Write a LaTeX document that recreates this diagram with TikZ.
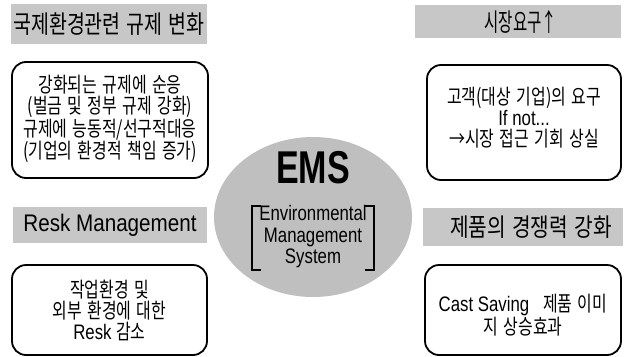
\documentclass[tikz,border=0pt]{standalone}
\usepackage{fontspec}
\setmainfont{Noto Sans CJK KR}[FakeStretch=0.76,WordSpace=1.5]
\newfontfamily\kta{Noto Sans CJK KR}[FakeStretch=0.78,WordSpace=1.4]
\newfontfamily\ktb{Noto Sans CJK KR}[FakeStretch=0.62]
\newfontfamily\ktc{Noto Sans CJK KR}[FakeStretch=0.81,WordSpace=1.4]
\newfontfamily\latn{Liberation Sans}[FakeStretch=0.80]
\newfontfamily\latt{Liberation Sans}[FakeStretch=0.86]
\newfontfamily\emsfont{Liberation Sans}[FakeStretch=0.74]
\newcommand{\lt}[1]{{\latn #1}}
\begin{document}
\begin{tikzpicture}[x=1pt,y=-1pt,
  titlebar/.style={fill=black!22,draw=none,inner sep=0pt,align=center},
  titletext/.style={inner sep=0pt},
  infobox/.style={draw=black,line width=1.8pt,rounded corners=14pt,fill=white,inner sep=0pt},
  boxtext/.style={inner sep=0pt,align=center,font=\fontsize{21}{21}\selectfont},
  bracketline/.style={line width=1.8pt}]
\useasboundingbox (0,0) rectangle (628,356);
% title bars
\node[titlebar,minimum width=196pt,minimum height=40pt,font=\kta\fontsize{25}{25}\selectfont] (t1) at (109,24) {국제환경관련 규제 변화};
\node[titlebar,minimum width=206pt,minimum height=33pt] (t2) at (518,21.5) {};
\node[titletext,font=\ktb\fontsize{25}{25}\selectfont] (t2x) at ([xshift=3pt]t2.center) {시장요구↑};
\node[titlebar,minimum width=194pt,minimum height=36pt,font=\latt\fontsize{24}{24}\selectfont] (t3) at (110,225) {Resk Management};
\node[titlebar,minimum width=200pt,minimum height=38pt] (t4) at (523,227) {};
\node[titletext,font=\ktc\fontsize{25}{25}\selectfont] (t4x) at ([xshift=8pt]t4.center) {제품의 경쟁력 강화};
% boxes
\node[infobox,minimum width=196pt,minimum height=116pt] (b1) at (110,120) {};
\node[boxtext] (b1x) at ([yshift=1pt]b1.center) {강화되는 규제에 순응\\(벌금 및 정부 규제 강화)\\규제에 능동적/선구적대응\\(기업의 환경적 책임 증가)};
\node[infobox,minimum width=194pt,minimum height=115pt] (b2) at (524,122.5) {};
\node[boxtext] (b2x) at ([yshift=5pt]b2.center) {고객(대상 기업)의 요구\\\lt{If not...}\\→시장 접근 기회 상실};
\node[infobox,minimum width=195pt,minimum height=90pt] (b3) at (109.5,310) {};
\node[boxtext] (b3x) at (b3.center) {작업환경 및\\외부 환경에 대한\\\lt{Resk\ }감소};
\node[infobox,minimum width=196pt,minimum height=90pt] (b4) at (523,310) {};
\node[boxtext] (b4x) at ([yshift=-5pt]b4.center) {\lt{Cast Saving\ \ \ }제품 이미\\지 상승효과};
% ellipse
\fill[black!25] (313,217) ellipse [x radius=99, y radius=80];
\node[inner sep=0pt,font=\emsfont\bfseries\fontsize{46}{46}\selectfont] (ems) at (313,168) {EMS};
\node[inner sep=0pt,align=center,font=\latn\fontsize{21}{21.5}\selectfont] (sub) at (313,237) {Environmental\\Management\\System};
\coordinate (lt) at (252,206);
\coordinate (lb) at (252,270);
\coordinate (rt) at (374,206);
\coordinate (rb) at (374,270);
\draw[bracketline] ([xshift=9pt]lt) -- (lt) -- (lb) -- ([xshift=9pt]lb);
\draw[bracketline] ([xshift=-9pt]rt) -- (rt) -- (rb) -- ([xshift=-9pt]rb);
\end{tikzpicture}
\end{document}
